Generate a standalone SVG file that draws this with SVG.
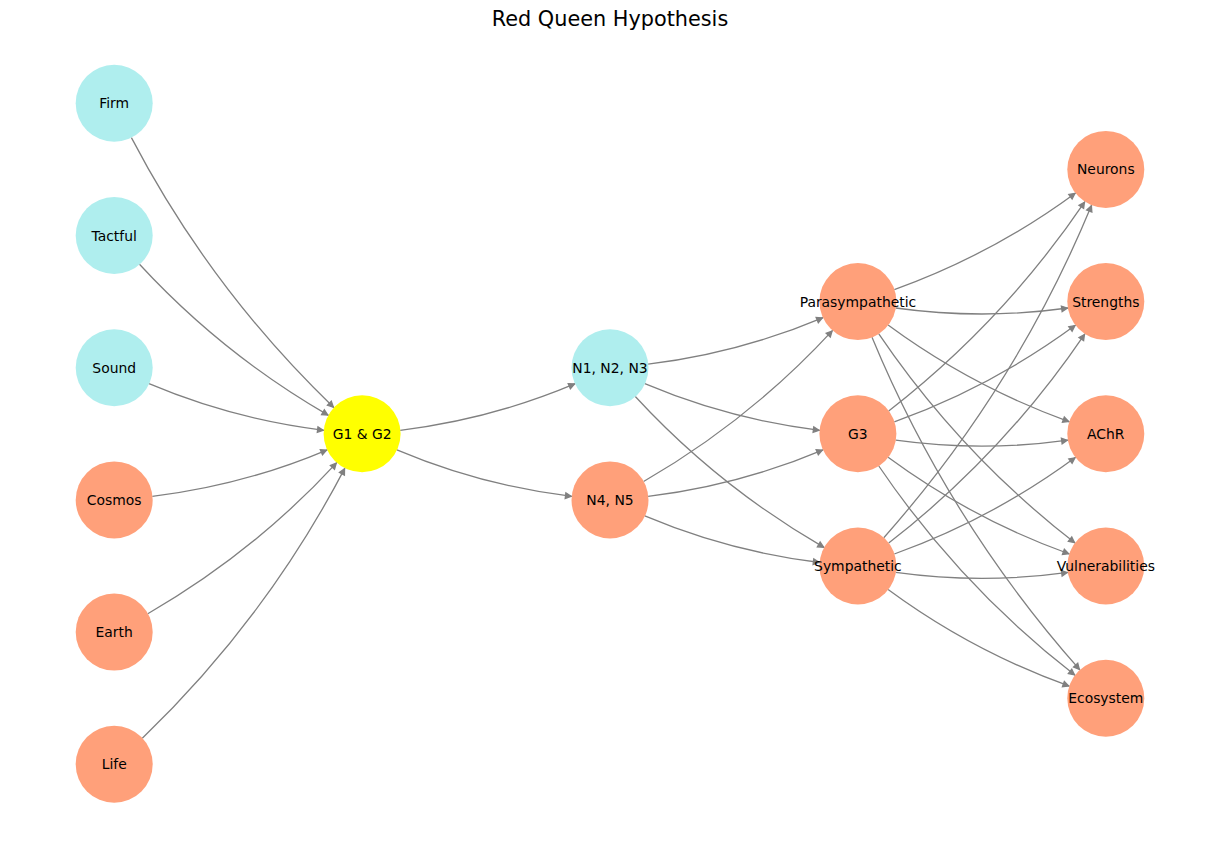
<svg xmlns="http://www.w3.org/2000/svg" width="1220" height="844" viewBox="0 0 1220 844">
<style>
.e{fill:none;stroke:#808080;stroke-width:1.3;marker-end:url(#ah)}
.c{fill:#afeeee}
.s{fill:#ffa07a}
.y{fill:#ffff00}
.n text,text.t{font-family:"DejaVu Sans","Liberation Sans",sans-serif;fill:#000}
.n text{font-size:13.9px;text-anchor:middle}
</style>
<defs>
<marker id="ah" markerUnits="userSpaceOnUse" markerWidth="20" markerHeight="20" refX="0" refY="0" orient="auto" overflow="visible">
<path d="M-0.8,0 L-6.4,-2.8 L-6.4,2.8 Z" fill="#808080" stroke="#808080" stroke-width="1.3" stroke-linejoin="miter"/>
</marker>
</defs>
<rect width="1220" height="844" fill="#fff"/>
<text class="t" x="610" y="26" font-size="20.8" text-anchor="middle">Red Queen Hypothesis</text>
<g id="edges">
<path class="e" d="M131.4,137.6 Q210.6,289.2 334.0,407.7"/>
<path class="e" d="M139.5,264.3 Q222.5,354.3 328.5,415.4"/>
<path class="e" d="M149.0,383.7 Q233.2,419.3 324.0,430.3"/>
<path class="e" d="M152.3,496.4 Q243.1,485.4 327.3,449.8"/>
<path class="e" d="M147.8,613.7 Q253.8,552.6 336.8,462.6"/>
<path class="e" d="M142.3,738.2 Q265.7,619.7 344.9,468.1"/>
<path class="e" d="M400.2,430.3 Q491.0,419.3 575.2,383.7"/>
<path class="e" d="M396.9,449.8 Q481.1,485.4 571.9,496.4"/>
<path class="e" d="M648.1,364.2 Q738.9,353.2 823.1,317.6"/>
<path class="e" d="M644.8,383.7 Q729.0,419.3 819.8,430.3"/>
<path class="e" d="M635.3,396.5 Q718.3,486.5 824.3,547.6"/>
<path class="e" d="M643.6,481.5 Q749.6,420.4 832.6,330.4"/>
<path class="e" d="M648.1,496.4 Q738.9,485.4 823.1,449.8"/>
<path class="e" d="M644.8,515.9 Q729.0,551.5 819.8,562.5"/>
<path class="e" d="M894.3,289.6 Q992.0,254.5 1075.6,192.9"/>
<path class="e" d="M895.7,308.0 Q981.9,320.0 1068.1,308.0"/>
<path class="e" d="M888.1,325.1 Q971.7,386.7 1069.4,421.8"/>
<path class="e" d="M878.8,333.8 Q960.3,454.0 1075.1,543.1"/>
<path class="e" d="M872.0,337.3 Q948.1,521.0 1079.9,669.9"/>
<path class="e" d="M888.7,410.9 Q1003.4,321.8 1084.9,201.6"/>
<path class="e" d="M894.3,421.8 Q992.0,386.7 1075.6,325.1"/>
<path class="e" d="M895.7,440.2 Q981.9,452.2 1068.1,440.2"/>
<path class="e" d="M888.1,457.3 Q971.7,518.9 1069.4,554.0"/>
<path class="e" d="M878.8,466.0 Q960.3,586.2 1075.1,675.3"/>
<path class="e" d="M883.8,537.7 Q1015.6,388.8 1091.7,205.1"/>
<path class="e" d="M888.7,543.1 Q1003.4,454.0 1084.9,333.8"/>
<path class="e" d="M894.3,554.0 Q992.0,518.9 1075.6,457.3"/>
<path class="e" d="M895.7,572.4 Q981.9,584.4 1068.1,572.4"/>
<path class="e" d="M888.1,589.5 Q971.7,651.1 1069.4,686.2"/>
</g>
<g id="firm" class="n"><circle class="c" cx="114.2" cy="103.3" r="38.5"/><text x="114.2" y="108.3">Firm</text></g>
<g id="tactful" class="n"><circle class="c" cx="114.2" cy="235.5" r="38.5"/><text x="114.2" y="240.5">Tactful</text></g>
<g id="sound" class="n"><circle class="c" cx="114.2" cy="367.7" r="38.5"/><text x="114.2" y="372.7">Sound</text></g>
<g id="cosmos" class="n"><circle class="s" cx="114.2" cy="499.9" r="38.5"/><text x="114.2" y="504.9">Cosmos</text></g>
<g id="earth" class="n"><circle class="s" cx="114.2" cy="632.1" r="38.5"/><text x="114.2" y="637.1">Earth</text></g>
<g id="life" class="n"><circle class="s" cx="114.2" cy="764.3" r="38.5"/><text x="114.2" y="769.3">Life</text></g>
<g id="g1g2" class="n"><circle class="y" cx="362.1" cy="433.8" r="38.5"/><text x="362.1" y="438.8">G1 &amp; G2</text></g>
<g id="n123" class="n"><circle class="c" cx="610" cy="367.7" r="38.5"/><text x="610" y="372.7">N1, N2, N3</text></g>
<g id="n45" class="n"><circle class="s" cx="610" cy="499.9" r="38.5"/><text x="610" y="504.9">N4, N5</text></g>
<g id="parasympathetic" class="n"><circle class="s" cx="857.9" cy="301.6" r="38.5"/><text x="857.9" y="306.6">Parasympathetic</text></g>
<g id="g3" class="n"><circle class="s" cx="857.9" cy="433.8" r="38.5"/><text x="857.9" y="438.8">G3</text></g>
<g id="sympathetic" class="n"><circle class="s" cx="857.9" cy="566" r="38.5"/><text x="857.9" y="571">Sympathetic</text></g>
<g id="neurons" class="n"><circle class="s" cx="1105.8" cy="169.4" r="38.5"/><text x="1105.8" y="174.4">Neurons</text></g>
<g id="strengths" class="n"><circle class="s" cx="1105.8" cy="301.6" r="38.5"/><text x="1105.8" y="306.6">Strengths</text></g>
<g id="achr" class="n"><circle class="s" cx="1105.8" cy="433.8" r="38.5"/><text x="1105.8" y="438.8">AChR</text></g>
<g id="vulnerabilities" class="n"><circle class="s" cx="1105.8" cy="566" r="38.5"/><text x="1105.8" y="571">Vulnerabilities</text></g>
<g id="ecosystem" class="n"><circle class="s" cx="1105.8" cy="698.2" r="38.5"/><text x="1105.8" y="703.2">Ecosystem</text></g>
</svg>
